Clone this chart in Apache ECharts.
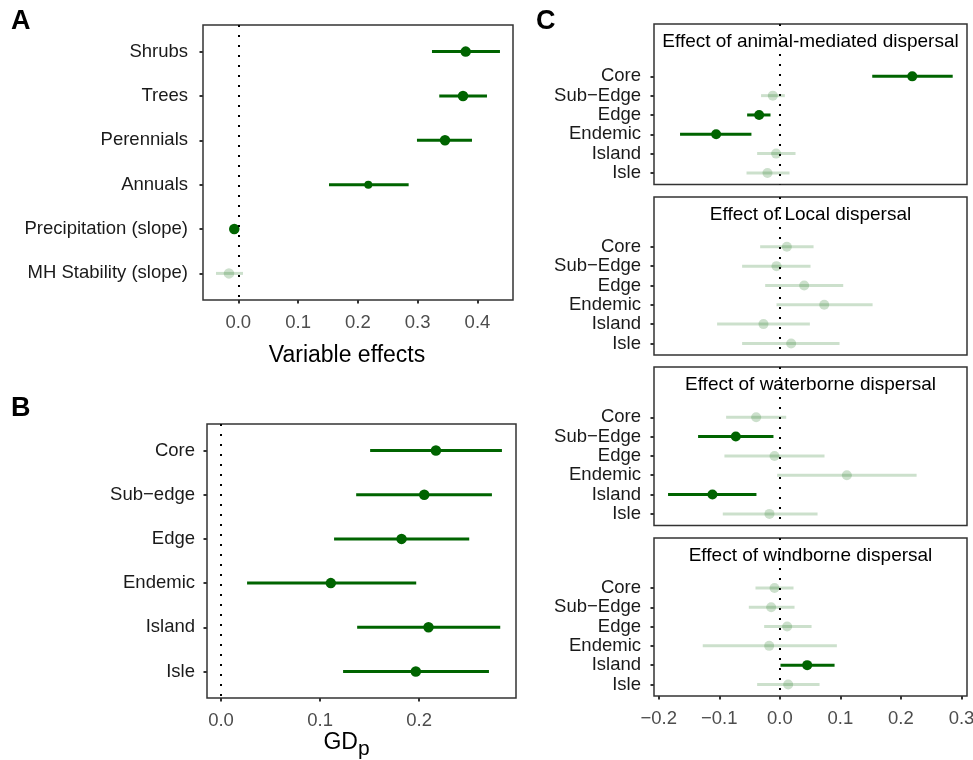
<!DOCTYPE html>
<html>
<head>
<meta charset="utf-8">
<script src="https://cdn.jsdelivr.net/npm/echarts@6/dist/echarts.min.js"></script>
<style>
  html, body { margin: 0; padding: 0; background: #fff; }
  #main { width: 973px; height: 760px; }
</style>
</head>
<body>
<div id="main"></div>
<script>
// panel A: variable effects
var labelsA = ['Shrubs', 'Trees', 'Perennials', 'Annuals', 'Precipitation (slope)', 'MH Stability (slope)'];
var estA = [0.3803, 0.3758, 0.3457, 0.2174, -0.0067, -0.0156];
var loA = [0.3239, 0.3361, 0.2988, 0.1517, -0.0090, -0.0373];
var hiA = [0.4376, 0.4159, 0.3908, 0.2849, -0.0045, 0.0079];
var sigA = [1, 1, 1, 1, 1, 0];
var ticksA = [0, 0.1, 0.2, 0.3, 0.4];

// panel B: GDp by range position
var labelsB = ['Core', 'Sub\u2212edge', 'Edge', 'Endemic', 'Island', 'Isle'];
var estB = [0.2169, 0.2051, 0.1822, 0.1108, 0.2094, 0.1966];
var loB = [0.1505, 0.1364, 0.1141, 0.0263, 0.1374, 0.1232];
var hiB = [0.2835, 0.2734, 0.2505, 0.1970, 0.2818, 0.2704];
var sigB = [1, 1, 1, 1, 1, 1];
var ticksB = [0, 0.1, 0.2];

// panel C: dispersal effects
var labelsC = ['Core', 'Sub\u2212Edge', 'Edge', 'Endemic', 'Island', 'Isle'];
var titlesC = ['Effect of animal-mediated dispersal', 'Effect of Local dispersal',
               'Effect of waterborne dispersal', 'Effect of windborne dispersal'];
var estAnimal = [0.2187, -0.0116, -0.0342, -0.1052, -0.0061, -0.0204];
var loAnimal = [0.1526, -0.0310, -0.0540, -0.1648, -0.0375, -0.0550];
var hiAnimal = [0.2855, 0.0083, -0.0154, -0.0469, 0.0259, 0.0160];
var sigAnimal = [1, 0, 1, 1, 0, 0];
var estLocal = [0.0116, -0.0055, 0.0402, 0.0733, -0.0270, 0.0187];
var loLocal = [-0.0325, -0.0623, -0.0242, -0.0055, -0.1036, -0.0623];
var hiLocal = [0.0557, 0.0507, 0.1047, 0.1532, 0.0496, 0.0986];
var sigLocal = [0, 0, 0, 0, 0, 0];
var estWater = [-0.0391, -0.0727, -0.0088, 0.1107, -0.1113, -0.0171];
var loWater = [-0.0887, -0.1350, -0.0915, -0.0044, -0.1846, -0.0942];
var hiWater = [0.0105, -0.0105, 0.0738, 0.2259, -0.0386, 0.0623];
var sigWater = [0, 1, 0, 0, 1, 0];
var estWind = [-0.0088, -0.0143, 0.0121, -0.0176, 0.0452, 0.0138];
var loWind = [-0.0402, -0.0512, -0.0259, -0.1273, 0.0011, -0.0375];
var hiWind = [0.0226, 0.0243, 0.0524, 0.0942, 0.0904, 0.0656];
var sigWind = [0, 0, 0, 0, 1, 0];
var ticksC = [-0.2, -0.1, 0, 0.1, 0.2, 0.3];

var DARK = '#006400';
var LIGHT = 'rgba(0,100,0,0.2)';
var FONT = 'Liberation Sans, Arial, sans-serif';
var ROWS = [1, 2, 3, 4, 5, 6];
// the Annuals point is drawn a bit smaller in the original
var smallPointA = 3;

var chart = echarts.init(document.getElementById('main'), null, { renderer: 'canvas' });

function fmtNum(v) {
    return (v < -1e-9 ? '\u2212' : '') + Math.abs(v).toFixed(1);
}

function renderBar(params, api) {
    var p1 = api.coord([api.value(0), api.value(2)]);
    var p2 = api.coord([api.value(1), api.value(2)]);
    return {
        type: 'line',
        shape: { x1: p1[0], y1: p1[1], x2: p2[0], y2: p2[1] },
        style: { stroke: api.value(3) ? DARK : LIGHT, lineWidth: 3 }
    };
}

function gridBox(left, top, width, height) {
    return {
        left: left, top: top, width: width, height: height,
        outerBoundsMode: 'none', containLabel: false,
        show: true, borderColor: '#333', borderWidth: 1.5,
        backgroundColor: 'transparent'
    };
}

function yAxisFor(idx, labels, min, margin) {
    return {
        type: 'value', gridIndex: idx, inverse: true, min: min, max: 6.6,
        position: 'left',
        axisLine: { show: false, onZero: false },
        splitLine: { show: false },
        axisTick: { show: true, customValues: ROWS, length: 3.5, lineStyle: { color: '#333', width: 2 } },
        axisLabel: {
            customValues: ROWS, margin: margin,
            color: '#1a1a1a', fontSize: 18.5, fontFamily: FONT,
            formatter: function(v) { return labels[Math.round(v) - 1]; }
        }
    };
}

function xAxisFor(idx, min, max, ticks, showLabels, extra) {
    var axis = {
        type: 'value', gridIndex: idx, min: min, max: max,
        position: 'bottom',
        axisLine: { show: false, onZero: false },
        splitLine: { show: false },
        axisTick: { show: showLabels, customValues: ticks, length: 3.5, lineStyle: { color: '#333', width: 2 } },
        axisLabel: {
            show: showLabels, customValues: ticks, margin: 13,
            color: '#4d4d4d', fontSize: 18.5, fontFamily: FONT,
            formatter: fmtNum
        }
    };
    return Object.assign(axis, extra || {});
}

function panelSeries(idx, est, lo, hi, sig, pointSize) {
    var bars = [], pts = [];
    for (var i = 0; i < est.length; i++) {
        bars.push([lo[i], hi[i], i + 1, sig[i]]);
        pts.push([est[i], i + 1, sig[i]]);
    }
    return [{
        type: 'custom', xAxisIndex: idx, yAxisIndex: idx,
        renderItem: renderBar, encode: { x: [0, 1], y: 2 },
        data: bars, silent: true, z: 2
    }, {
        type: 'scatter', xAxisIndex: idx, yAxisIndex: idx,
        data: pts, silent: true, z: 3,
        symbolSize: pointSize || 10,
        itemStyle: { opacity: 1, color: function(p) { return p.value[2] ? DARK : LIGHT; } },
        markLine: {
            silent: true, symbol: 'none', z: 4,
            label: { show: false },
            lineStyle: { type: [2, 8], color: '#000', width: 2, cap: 'butt' },
            data: [{ xAxis: 0 }]
        }
    }];
}

var cTops = [24, 197, 367, 538];
var cHeights = [160.5, 158, 158.5, 158];
var cMins = [-1.71, -1.58, -1.6, -1.59];
var cEst = [estAnimal, estLocal, estWater, estWind];
var cLo = [loAnimal, loLocal, loWater, loWind];
var cHi = [hiAnimal, hiLocal, hiWater, hiWind];
var cSig = [sigAnimal, sigLocal, sigWater, sigWind];

var grids = [gridBox(203, 25, 310, 275), gridBox(207, 424, 309, 274)];
var xAxes = [
    xAxisFor(0, -0.059, 0.4594, ticksA, true, {
        name: 'Variable effects', nameLocation: 'middle', nameGap: 44,
        nameTextStyle: { color: '#000', fontSize: 23, fontFamily: FONT, padding: [0, 22, 0, 0] }
    }),
    xAxisFor(1, -0.01414, 0.2977, ticksB, true, {
        name: '{a|GD}{b|p}', nameLocation: 'middle', nameGap: 26,
        nameTextStyle: {
            color: '#000', fontSize: 23, fontFamily: FONT, padding: [0, 30, 0, 0],
            rich: {
                a: { fontSize: 23, fontFamily: FONT, color: '#000' },
                b: { fontSize: 21, fontFamily: FONT, color: '#000', padding: [14, 0, 0, 0] }
            }
        }
    })
];
var yAxes = [yAxisFor(0, labelsA, 0.4, 15), yAxisFor(1, labelsB, 0.4, 12)];
var series = panelSeries(0, estA, loA, hiA, sigA, function(v, p) { return p.dataIndex === smallPointA ? 8 : 10.5; })
    .concat(panelSeries(1, estB, loB, hiB, sigB, 10.5));

var graphics = [
    { type: 'text', x: 11, y: 8, style: { text: 'A', font: 'bold 27px ' + FONT, fill: '#000' } },
    { type: 'text', x: 11, y: 395, style: { text: 'B', font: 'bold 27px ' + FONT, fill: '#000' } },
    { type: 'text', x: 536, y: 8, style: { text: 'C', font: 'bold 27px ' + FONT, fill: '#000' } }
];

for (var k = 0; k < 4; k++) {
    var gi = k + 2;
    grids.push(gridBox(654, cTops[k], 313, cHeights[k]));
    xAxes.push(xAxisFor(gi, -0.2078, 0.3091, ticksC, k === 3));
    yAxes.push(yAxisFor(gi, labelsC, cMins[k], 13));
    series = series.concat(panelSeries(gi, cEst[k], cLo[k], cHi[k], cSig[k], 10));
    graphics.push({
        type: 'text', x: 810.5, y: cTops[k] + 18,
        style: { text: titlesC[k], font: '19px ' + FONT, fill: '#000', align: 'center', verticalAlign: 'middle' }
    });
}

chart.setOption({
    animation: false,
    backgroundColor: '#fff',
    grid: grids,
    xAxis: xAxes,
    yAxis: yAxes,
    series: series,
    graphic: graphics
});
</script>
</body>
</html>
